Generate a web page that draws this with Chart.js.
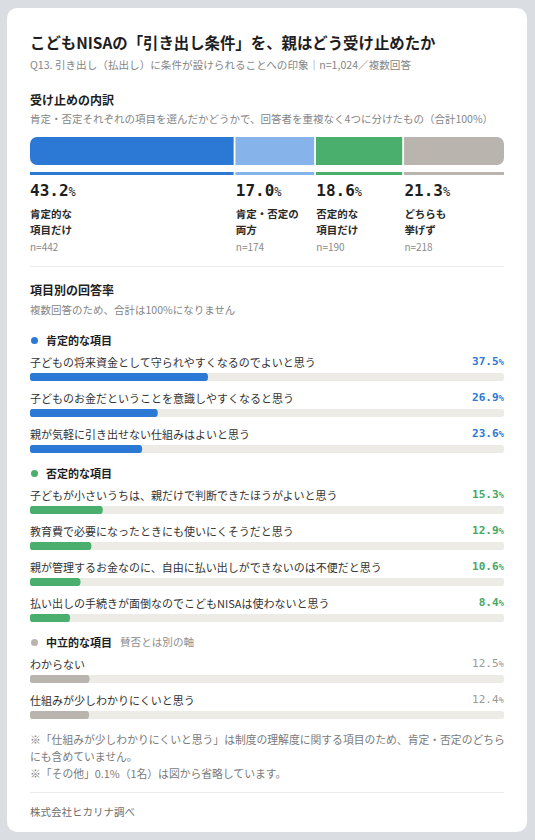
<!DOCTYPE html>
<html lang="ja">
<head>
<meta charset="utf-8">
<script src="https://cdn.jsdelivr.net/npm/chart.js@4.4.1/dist/chart.umd.min.js"></script>
<style>
html,body{margin:0;padding:0;background:#dadde1;}
body{width:535px;height:840px;position:relative;overflow:hidden;font-family:"Noto Sans CJK JP","Noto Sans",sans-serif;color:#222;}
.card{position:absolute;left:7px;top:8px;width:520px;height:824px;background:#fff;border-radius:10px;}
.inner{position:absolute;left:23px;top:22px;width:474px;}
.title{font-size:15.4px;font-weight:700;line-height:24px;color:#1e1e1e;white-space:nowrap;}
.sub{margin-top:3px;font-size:10.6px;line-height:16px;color:#858585;white-space:nowrap;}
.h2{font-size:12px;font-weight:700;line-height:18px;color:#1e1e1e;}
.desc{font-size:10.5px;line-height:16px;color:#858585;white-space:nowrap;}
.m18{margin-top:18px;} .m2{margin-top:2px;} .m3{margin-top:3px;} .m14{margin-top:14px;}
.stackWrap{margin-top:10px;height:28px;width:474px;position:relative;}
.lineWrap{margin-top:7px;height:3px;width:474px;position:relative;}
.cols{margin-top:6px;height:72px;position:relative;}
.col{position:absolute;top:0;}
.pct{font-family:"DejaVu Sans Mono",monospace;font-weight:700;font-size:16px;line-height:20px;color:#1e1e1e;}
.pct small{font-size:12px;font-weight:400;}
.clab{margin-top:4px;font-size:10.5px;font-weight:700;line-height:16px;color:#2a2a2a;white-space:nowrap;}
.cn{margin-top:2px;font-size:10px;line-height:14px;color:#8a8a8a;}
.divider{height:1px;background:#ececec;}
.gh{margin-top:13px;font-size:11px;font-weight:700;line-height:18px;color:#1e1e1e;display:flex;align-items:center;white-space:nowrap;}
.gh.g2{margin-top:11px;}
.dot{display:inline-block;width:7px;height:7px;border-radius:50%;margin-left:1px;margin-right:8px;}
.ghn{font-weight:400;color:#8e8e8e;font-size:10.6px;margin-left:8px;}
.item{margin-top:9px;}
.item.first{margin-top:5px;}
.irow{display:flex;justify-content:space-between;align-items:center;height:16px;line-height:16px;}
.ilab{font-size:11px;color:#333;white-space:nowrap;}
.ival{font-family:"DejaVu Sans Mono",monospace;font-weight:700;font-size:11px;}
.ival small{font-size:9px;}
.ival.neu{font-weight:400;}
.barWrap{margin-top:3px;height:8px;width:474px;position:relative;}
.notes{margin-top:12px;font-size:10.8px;line-height:17px;color:#7a7a7a;white-space:nowrap;}
.foot{margin-top:11px;font-size:10.5px;line-height:16px;color:#6e6e6e;}
</style>
</head>
<body>
<div class="card">
 <div class="inner">
  <div class="title">こどもNISAの「引き出し条件」を、親はどう受け止めたか</div>
  <div class="sub">Q13. 引き出し（払出し）に条件が設けられることへの印象｜n=1,024／複数回答</div>
  <div class="h2 m18">受け止めの内訳</div>
  <div class="desc m2">肯定・否定それぞれの項目を選んだかどうかで、回答者を重複なく4つに分けたもの（合計100%）</div>
  <div class="stackWrap"><canvas id="stack"></canvas></div>
  <div class="lineWrap"><canvas id="stackLine"></canvas></div>
  <div class="cols" id="cols"></div>
  <div class="divider" style="margin-top:13px"></div>
  <div class="h2 m14">項目別の回答率</div>
  <div class="desc m3">複数回答のため、合計は100%になりません</div>
  <div id="groups"></div>
  <div class="notes">※「仕組みが少しわかりにくいと思う」は制度の理解度に関する項目のため、肯定・否定のどちら<br>にも含めていません。<br>※「その他」0.1%（1名）は図から省略しています。</div>
  <div class="divider" style="margin-top:10px"></div>
  <div class="foot">株式会社ヒカリナ調べ</div>
 </div>
</div>
<script>
// ---- data ----
const breakdownLabels = [["肯定的な","項目だけ"],["肯定・否定の","両方"],["否定的な","項目だけ"],["どちらも","挙げず"]];
const breakdownValues = [43.2, 17.0, 18.6, 21.3];
const breakdownCounts = [442, 174, 190, 218];

const groupTitles = ["肯定的な項目", "否定的な項目", "中立的な項目"];
const groupNotes = ["", "", "賛否とは別の軸"];

const positiveItems = ["子どもの将来資金として守られやすくなるのでよいと思う","子どものお金だということを意識しやすくなると思う","親が気軽に引き出せない仕組みはよいと思う"];
const positiveValues = [37.5, 26.9, 23.6];
const negativeItems = ["子どもが小さいうちは、親だけで判断できたほうがよいと思う","教育費で必要になったときにも使いにくそうだと思う","親が管理するお金なのに、自由に払い出しができないのは不便だと思う","払い出しの手続きが面倒なのでこどもNISAは使わないと思う"];
const negativeValues = [15.3, 12.9, 10.6, 8.4];
const neutralItems = ["わからない","仕組みが少しわかりにくいと思う"];
const neutralValues = [12.5, 12.4];

const axisMax = 100;

// ---- styles ----
const segColors = ["#2b79d5","#86b3ea","#4aae6c","#b9b5ae"];
const groupColors = ["#2b79d5","#4aae6c","#b9b5ae"];
const valueColors = ["#2b79d5","#43a864","#9a9a9a"];
const TRACK = "#ecebe6";

const baseOpts = {
  indexAxis:'y', animation:false, responsive:true, maintainAspectRatio:false, events:[],
  plugins:{legend:{display:false}, tooltip:{enabled:false}},
  layout:{padding:0}
};

// stacked breakdown bar
const total = breakdownValues.reduce((a,b)=>a+b,0);
function stackDatasets(radius){
  const n = breakdownValues.length;
  return breakdownValues.map((v,i)=>({
    data:[v], backgroundColor:segColors[i], borderColor:"#ffffff",
    borderWidth:{left:i>0?1.25:0, right:i<n-1?1.25:0, top:0, bottom:0},
    borderSkipped:false,
    borderRadius: radius ? (i===0 ? {topLeft:radius,bottomLeft:radius,topRight:0,bottomRight:0} : (i===n-1 ? {topLeft:0,bottomLeft:0,topRight:radius,bottomRight:radius} : 0)) : 0,
    barPercentage:1, categoryPercentage:1, stack:'s'
  }));
}
const stackChart = new Chart(document.getElementById('stack'), {
  type:'bar',
  data:{labels:['内訳'], datasets:stackDatasets(7)},
  options:Object.assign({}, baseOpts, {scales:{x:{display:false,stacked:true,min:0,max:total}, y:{display:false,stacked:true}}})
});
new Chart(document.getElementById('stackLine'), {
  type:'bar',
  data:{labels:['内訳'], datasets:stackDatasets(0)},
  options:Object.assign({}, baseOpts, {scales:{x:{display:false,stacked:true,min:0,max:total}, y:{display:false,stacked:true}}})
});

// columns under the stacked bar, positioned from the chart's own scale
const cols = document.getElementById('cols');
breakdownValues.forEach((v,i)=>{
  const el = stackChart.getDatasetMeta(i).data[0];
  const left = Math.min(el.x, el.base) + (i>0 ? 1.25 : 0);
  const d = document.createElement('div');
  d.className = 'col';
  d.style.left = left + 'px';
  d.innerHTML = '<div class="pct">' + v.toFixed(1) + '<small>%</small></div>' +
    '<div class="clab">' + breakdownLabels[i].join('<br>') + '</div>' +
    '<div class="cn">n=' + breakdownCounts[i] + '</div>';
  cols.appendChild(d);
});

// item groups
const groups = document.getElementById('groups');
const groupItems = [positiveItems, negativeItems, neutralItems];
const groupValues = [positiveValues, negativeValues, neutralValues];
groupTitles.forEach((t,g)=>{
  const h = document.createElement('div');
  h.className = 'gh' + (g>0 ? ' g2' : '');
  h.innerHTML = '<span class="dot" style="background:' + groupColors[g] + '"></span>' + t +
    (groupNotes[g] ? '<span class="ghn">' + groupNotes[g] + '</span>' : '');
  groups.appendChild(h);
  groupItems[g].forEach((label,k)=>{
    const v = groupValues[g][k];
    const it = document.createElement('div');
    it.className = 'item' + (k===0 ? ' first' : '');
    it.innerHTML = '<div class="irow"><span class="ilab">' + label + '</span>' +
      '<span class="ival' + (g===2 ? ' neu' : '') + '" style="color:' + valueColors[g] + '">' + v.toFixed(1) + '<small>%</small></span></div>' +
      '<div class="barWrap"><canvas></canvas></div>';
    groups.appendChild(it);
    const cv = it.querySelector('canvas');
    new Chart(cv, {
      type:'bar',
      data:{labels:[label], datasets:[
        {data:[v], backgroundColor:groupColors[g], borderRadius:4, borderSkipped:false, grouped:false, barPercentage:1, categoryPercentage:1},
        {data:[axisMax], backgroundColor:TRACK, borderRadius:4, borderSkipped:false, grouped:false, barPercentage:1, categoryPercentage:1}
      ]},
      options:Object.assign({}, baseOpts, {scales:{x:{display:false,min:0,max:axisMax}, y:{display:false}}})
    });
  });
});
</script>
</body>
</html>
